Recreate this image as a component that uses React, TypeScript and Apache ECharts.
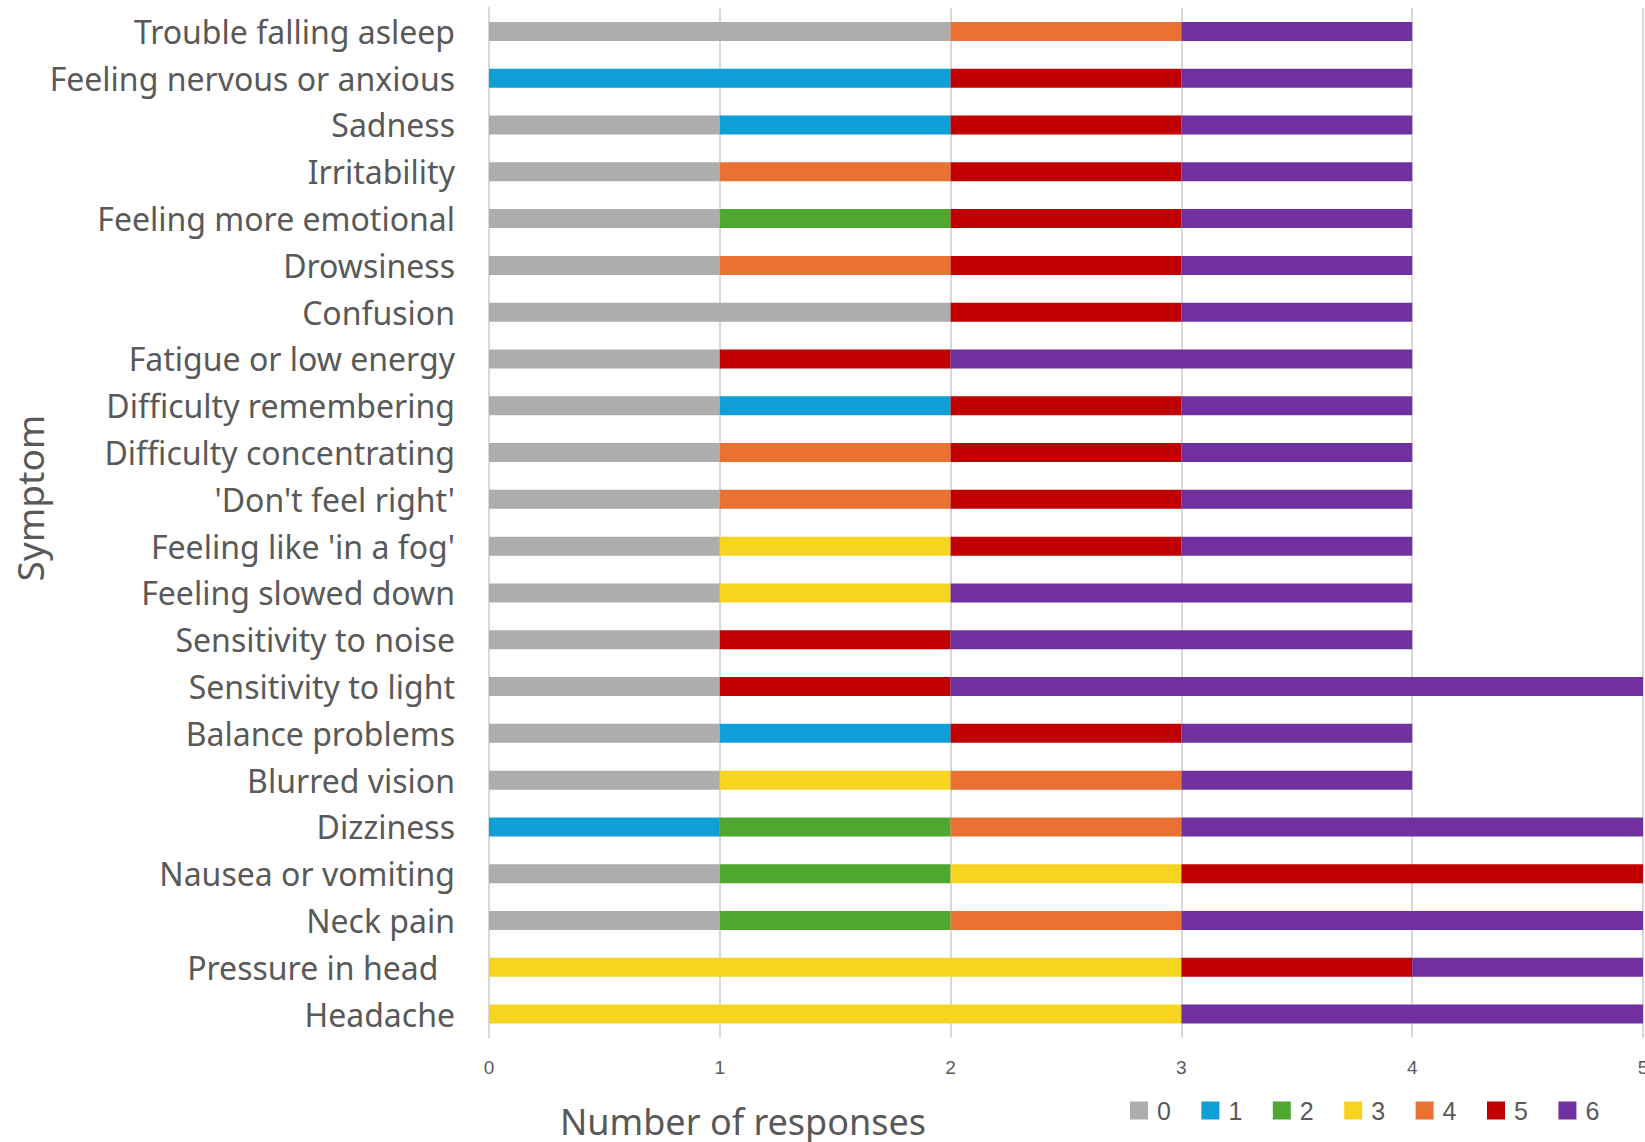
import React, { useEffect, useRef } from "react";
import * as echarts from "echarts";

const categories = [
  "Trouble falling asleep",
  "Feeling nervous or anxious",
  "Sadness",
  "Irritability",
  "Feeling more emotional",
  "Drowsiness",
  "Confusion",
  "Fatigue or low energy",
  "Difficulty remembering",
  "Difficulty concentrating",
  "'Don't feel right'",
  "Feeling like 'in a fog'",
  "Feeling slowed down",
  "Sensitivity to noise",
  "Sensitivity to light",
  "Balance problems",
  "Blurred vision",
  "Dizziness",
  "Nausea or vomiting",
  "Neck pain",
  "Pressure in head  ",
  "Headache",
];

const seriesNames = ["0", "1", "2", "3", "4", "5", "6"];
const rating0 = [2, 0, 1, 1, 1, 1, 2, 1, 1, 1, 1, 1, 1, 1, 1, 1, 1, 0, 1, 1, 0, 0];
const rating1 = [0, 2, 1, 0, 0, 0, 0, 0, 1, 0, 0, 0, 0, 0, 0, 1, 0, 1, 0, 0, 0, 0];
const rating2 = [0, 0, 0, 0, 1, 0, 0, 0, 0, 0, 0, 0, 0, 0, 0, 0, 0, 1, 1, 1, 0, 0];
const rating3 = [0, 0, 0, 0, 0, 0, 0, 0, 0, 0, 0, 1, 1, 0, 0, 0, 1, 0, 1, 0, 3, 3];
const rating4 = [1, 0, 0, 1, 0, 1, 0, 0, 0, 1, 1, 0, 0, 0, 0, 0, 1, 1, 0, 1, 0, 0];
const rating5 = [0, 1, 1, 1, 1, 1, 1, 1, 1, 1, 1, 1, 0, 1, 1, 1, 0, 0, 2, 0, 1, 0];
const rating6 = [1, 1, 1, 1, 1, 1, 1, 2, 1, 1, 1, 1, 2, 2, 3, 1, 1, 2, 0, 2, 1, 2];
const ratings = [rating0, rating1, rating2, rating3, rating4, rating5, rating6];

const colors = ["#ADADAD", "#0F9ED5", "#4EA72E", "#F7D420", "#E97132", "#C00000", "#7030A0"];

const xTicks = { min: 0, max: 5, interval: 1 };
const xTitle = "Number of responses";
const yTitle = "Symptom";

export default function App() {
  const ref = useRef<HTMLDivElement>(null);
  useEffect(() => {
    if (!ref.current) return;
    const chart = echarts.init(ref.current, null, { renderer: "svg" });
    const labelFont = "'Noto Sans', 'Open Sans', sans-serif";
    chart.setOption({
      animation: false,
      backgroundColor: "#ffffff",
      grid: {
        left: 489,
        right: 2,
        top: 8,
        bottom: 104.5,
        containLabel: false,
        outerBoundsMode: "none",
      },
      legend: {
        data: seriesNames,
        left: 1125,
        top: 1093,
        itemWidth: 18,
        itemHeight: 18,
        itemGap: 30.5,
        icon: "rect",
        textStyle: {
          fontFamily: "'Liberation Sans', Arial, sans-serif",
          fontSize: 25,
          color: "#595959",
          padding: [0, 0, 0, 4],
        },
      },
      xAxis: {
        type: "value",
        min: xTicks.min,
        max: xTicks.max,
        interval: xTicks.interval,
        axisLine: { show: false },
        axisTick: { show: false },
        axisLabel: {
          margin: 20,
          fontFamily: "'Liberation Sans', Arial, sans-serif",
          fontSize: 19,
          color: "#595959",
        },
        splitLine: { show: true, lineStyle: { color: "#D9D9D9", width: 2 } },
      },
      yAxis: {
        type: "category",
        data: categories,
        inverse: true,
        axisLine: { show: true, lineStyle: { color: "#D9D9D9", width: 2 } },
        axisTick: { show: false },
        axisLabel: {
          margin: 34,
          fontFamily: labelFont,
          fontSize: 32,
          color: "#595959",
        },
      },
      series: seriesNames.map((name, i) => ({
        name,
        type: "bar",
        stack: "total",
        barWidth: 19,
        itemStyle: { color: colors[i] },
        data: ratings[i],
      })),
      graphic: [
        {
          type: "text",
          x: 743,
          y: 1121,
          style: {
            text: xTitle,
            font: "36px 'Noto Sans', 'Open Sans', sans-serif",
            fill: "#595959",
            textAlign: "center",
            textVerticalAlign: "middle",
          },
        },
        {
          type: "text",
          x: 29,
          y: 498,
          rotation: Math.PI / 2,
          style: {
            text: yTitle,
            font: "37px 'Noto Sans', 'Open Sans', sans-serif",
            fill: "#595959",
            textAlign: "center",
            textVerticalAlign: "middle",
          },
        },
      ],
    });
    return () => chart.dispose();
  }, []);
  return (
    <div
      ref={ref}
      style={{ position: "absolute", left: 0, top: 0, width: 1645, height: 1142 }}
    />
  );
}
